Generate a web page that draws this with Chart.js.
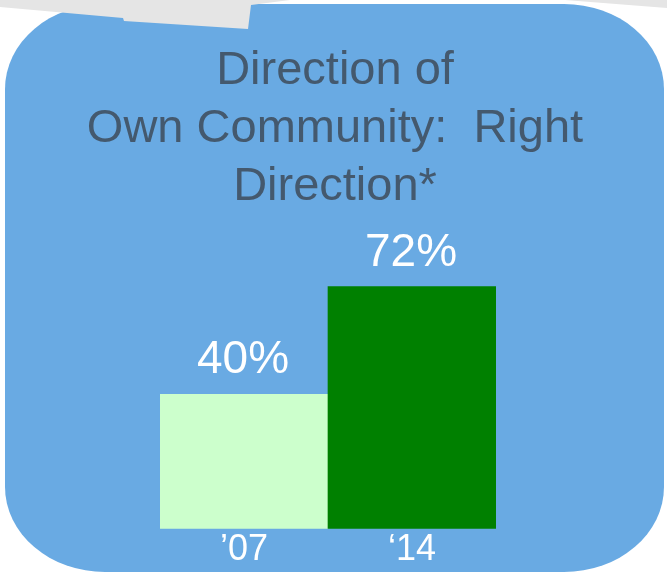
<!DOCTYPE html>
<html>
<head>
<meta charset="utf-8">
<script src="https://cdn.jsdelivr.net/npm/chart.js@4/dist/chart.umd.min.js"></script>
<style>
  html, body { margin: 0; padding: 0; background: #ffffff; }
  #wrap { width: 667px; height: 573px; }
</style>
</head>
<body>
<div id="wrap"><canvas id="c" width="667" height="573"></canvas></div>
<script>
const categories = ['\u201907', '\u201814'];
const values = [40, 72];
const valueLabels = ['40%', '72%'];
const barColors = ['#ccffcc', '#008000'];
const titleLines = ['Direction of', 'Own Community:  Right', 'Direction*'];

const backgroundPlugin = {
  id: 'bgShape',
  beforeDraw(chart) {
    const ctx = chart.ctx;
    ctx.save();
    ctx.fillStyle = '#ffffff';
    ctx.fillRect(0, 0, chart.width, chart.height);
    // rounded blue panel
    const x0 = 5, y0 = 4, x1 = 664, y1 = 572, rx = 100, ry = 85;
    ctx.fillStyle = '#69aae3';
    ctx.beginPath();
    ctx.moveTo(x0 + rx, y0);
    ctx.lineTo(x1 - rx, y0);
    ctx.ellipse(x1 - rx, y0 + ry, rx, ry, 0, -Math.PI / 2, 0);
    ctx.lineTo(x1, y1 - ry);
    ctx.ellipse(x1 - rx, y1 - ry, rx, ry, 0, 0, Math.PI / 2);
    ctx.lineTo(x0 + rx, y1);
    ctx.ellipse(x0 + rx, y1 - ry, rx, ry, 0, Math.PI / 2, Math.PI);
    ctx.lineTo(x0, y0 + ry);
    ctx.ellipse(x0 + rx, y0 + ry, rx, ry, 0, Math.PI, Math.PI * 1.5);
    ctx.closePath();
    ctx.fill();
    // gray paper pieces
    ctx.fillStyle = '#e5e5e5';
    ctx.beginPath();
    ctx.moveTo(0, 0);
    ctx.lineTo(290, 0);
    ctx.lineTo(251, 5);
    ctx.lineTo(248, 29);
    ctx.lineTo(124, 21);
    ctx.lineTo(123, 18);
    ctx.lineTo(0, 7);
    ctx.closePath();
    ctx.fill();
    ctx.beginPath();
    ctx.moveTo(565, 0);
    ctx.lineTo(667, 0);
    ctx.lineTo(667, 8);
    ctx.closePath();
    ctx.fill();
    // title
    ctx.fillStyle = '#44596e';
    ctx.font = '47px "Liberation Sans", Arial, sans-serif';
    ctx.textAlign = 'center';
    ctx.textBaseline = 'middle';
    titleLines.forEach((line, i) => {
      ctx.fillText(line, 335, 71 + i * 58);
    });
    ctx.restore();
  }
};

const valueLabelPlugin = {
  id: 'valueLabels',
  afterDatasetsDraw(chart) {
    const ctx = chart.ctx;
    const meta = chart.getDatasetMeta(0);
    ctx.save();
    ctx.fillStyle = '#ffffff';
    ctx.font = '46px "Liberation Sans", Arial, sans-serif';
    ctx.textAlign = 'center';
    ctx.textBaseline = 'alphabetic';
    meta.data.forEach((bar, i) => {
      ctx.fillText(valueLabels[i], bar.x - 1, bar.y - 21);
    });
    ctx.restore();
  }
};

new Chart(document.getElementById('c'), {
  type: 'bar',
  data: {
    labels: categories,
    datasets: [{
      data: values,
      backgroundColor: barColors,
      borderWidth: 0,
      barPercentage: 1,
      categoryPercentage: 1
    }]
  },
  options: {
    responsive: false,
    animation: false,
    events: [],
    layout: { padding: { left: 160, right: 171, top: 226, bottom: 1 } },
    plugins: {
      legend: { display: false },
      tooltip: { enabled: false },
      title: { display: false }
    },
    scales: {
      x: {
        grid: { display: false, drawTicks: false },
        border: { display: false },
        ticks: {
          color: '#ffffff',
          padding: 0,
          font: { family: '"Liberation Sans", Arial, sans-serif', size: 36 }
        }
      },
      y: {
        display: false,
        min: 0,
        max: 90
      }
    }
  },
  plugins: [backgroundPlugin, valueLabelPlugin]
});
</script>
</body>
</html>
